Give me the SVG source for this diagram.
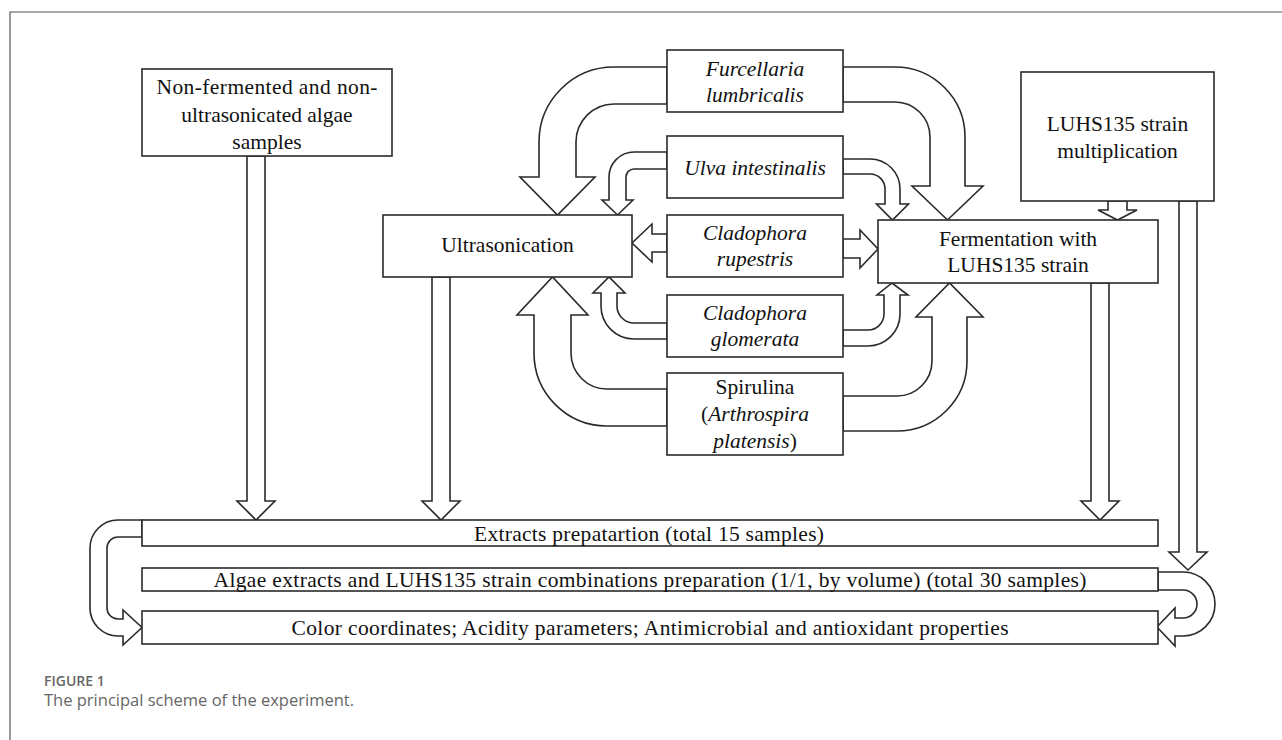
<svg xmlns="http://www.w3.org/2000/svg" width="1282" height="740" viewBox="0 0 1282 740">
<style>
.bx{fill:#fff;stroke:#2a2a2a;stroke-width:1.6}
.ar{fill:#fff;stroke:#2a2a2a;stroke-width:1.6;stroke-linejoin:miter}
.t{font-family:"Liberation Serif","Times New Roman",serif;font-size:21.5px;fill:#111;text-anchor:middle}
.i{font-style:italic}
.cap1{font-family:"Open Sans","Noto Sans",sans-serif;font-size:14px;font-weight:600;fill:#666}
.cap2{font-family:"Open Sans","Noto Sans",sans-serif;font-size:16.5px;fill:#666}
</style>
<rect x="0" y="0" width="1282" height="740" fill="#fff"/>
<path d="M10,740 V12 H1282" fill="none" stroke="#555" stroke-width="1.2"/>

<g id="connectors">
<path class="ar" d="M667,67 H614 A75,75 0 0 0 539,142 V177 H520 L557.5,215 L595,177 H576 V142 A38,38 0 0 1 614,104 H667 Z"/>
<path class="ar" d="M843,67 H895 A70,70 0 0 1 965,137 V186 H983 L947.5,220 L912,186 H930 V137 A35,35 0 0 0 895,102 H843 Z"/>
<path class="ar" d="M667,152 H634 A25,25 0 0 0 609,177 V200 H602 L617.5,215 L633,200 H626 V177 A8,8 0 0 1 634,169 H667 Z"/>
<path class="ar" d="M843,159 H870 A30,30 0 0 1 900,189 V204 H908.5 L892.5,220 L876.5,204 H885 V189 A15,15 0 0 0 870,174 H843 Z"/>
<path class="ar" d="M667,234 H652 V224 L632,243 L652,262 V252 H667 Z"/>
<path class="ar" d="M843,239 H860 V230 L878,249 L860,268 V258 H843 Z"/>
<path class="ar" d="M667,323 H634 A17,17 0 0 1 617,306 V293 H625 L609,277 L593,293 H601 V306 A33,33 0 0 0 634,339 H667 Z"/>
<path class="ar" d="M843,330 H868 A16,16 0 0 0 884,314 V295 H877 L892,283 L908,295 H900 V314 A32,32 0 0 1 868,346 H843 Z"/>
<path class="ar" d="M667,389 H607 A36,36 0 0 1 571,353 V315 H588 L552.5,277 L517,315 H534 V353 A73,73 0 0 0 607,426 H667 Z"/>
<path class="ar" d="M843,396 H897 A35,35 0 0 0 932,361 V317 H916 L949.5,283 L983,317 H967 V361 A70,70 0 0 1 897,431 H843 Z"/>
<path class="ar" d="M1108,201 V210 H1098 L1117.5,220 L1137,210 H1127 V201 Z"/>
<path class="ar" d="M1179,201 V552 H1169 L1188,570 L1207,552 H1197 V201 Z"/>
<path class="ar" d="M247,156 V501 H237 L256,520 L275,501 H265 V156 Z"/>
<path class="ar" d="M432,277 V501 H422 L441,520 L460,501 H450 V277 Z"/>
<path class="ar" d="M1091,283 V501 H1081 L1100,520 L1119,501 H1109 V283 Z"/>
<path class="ar" d="M142,520 H118 A28,28 0 0 0 90,548 V608 A28,28 0 0 0 118,636 H123 V645 L142,627.5 L123,610 V619 H118 A11,11 0 0 1 107,608 V548 A11,11 0 0 1 118,537 H142 Z"/>
<path class="ar" d="M1158,572 H1183 A32,32 0 0 1 1183,636 H1175 V646 L1157,627 L1175,608 V618 H1183 A14,14 0 0 0 1183,590 H1158 Z"/>
</g>

<g id="raw">
<rect class="bx" x="142" y="69" width="250" height="87"/>
<text class="t" x="267" y="94" textLength="221" lengthAdjust="spacing">Non-fermented and non-</text>
<text class="t" x="267" y="122">ultrasonicated algae</text>
<text class="t" x="267" y="149">samples</text>
</g>
<g id="furcellaria">
<rect class="bx" x="667" y="50" width="176" height="62"/>
<text class="t i" x="755" y="76">Furcellaria</text>
<text class="t i" x="755" y="102">lumbricalis</text>
</g>
<g id="ulva">
<rect class="bx" x="667" y="136" width="176" height="62"/>
<text class="t i" x="755" y="175">Ulva intestinalis</text>
</g>
<g id="rupestris">
<rect class="bx" x="667" y="215" width="176" height="62"/>
<text class="t i" x="755" y="240">Cladophora</text>
<text class="t i" x="755" y="266">rupestris</text>
</g>
<g id="glomerata">
<rect class="bx" x="667" y="295" width="176" height="62"/>
<text class="t i" x="755" y="320">Cladophora</text>
<text class="t i" x="755" y="346">glomerata</text>
</g>
<g id="spirulina">
<rect class="bx" x="667" y="373" width="176" height="82"/>
<text class="t" x="755" y="394">Spirulina</text>
<text class="t" x="755" y="421">(<tspan class="i">Arthrospira</tspan></text>
<text class="t" x="755" y="448"><tspan class="i">platensis</tspan>)</text>
</g>
<g id="ultrasonication">
<rect class="bx" x="383" y="215" width="249" height="62"/>
<text class="t" x="507.5" y="252">Ultrasonication</text>
</g>
<g id="fermentation">
<rect class="bx" x="878" y="220" width="280" height="63"/>
<text class="t" x="1018" y="246">Fermentation with</text>
<text class="t" x="1018" y="272">LUHS135 strain</text>
</g>
<g id="luhs">
<rect class="bx" x="1021" y="72" width="193" height="129"/>
<text class="t" x="1117.5" y="131">LUHS135 strain</text>
<text class="t" x="1117.5" y="158">multiplication</text>
</g>
<g id="extracts">
<rect class="bx" x="142" y="520" width="1016" height="26"/>
<text class="t" x="649" y="541" textLength="350" lengthAdjust="spacing">Extracts prepatartion (total 15 samples)</text>
</g>
<g id="combinations">
<rect class="bx" x="142" y="568" width="1016" height="23"/>
<text class="t" x="650" y="587" textLength="873" lengthAdjust="spacing">Algae extracts and LUHS135 strain combinations preparation (1/1, by volume) (total 30 samples)</text>
</g>
<g id="analysis">
<rect class="bx" x="142" y="611" width="1016" height="33"/>
<text class="t" x="650" y="635" textLength="717" lengthAdjust="spacing">Color coordinates; Acidity parameters; Antimicrobial and antioxidant properties</text>
</g>

<g id="caption">
<text class="cap1" x="44" y="686">FIGURE 1</text>
<text class="cap2" x="44" y="706">The principal scheme of the experiment.</text>
</g>
</svg>
